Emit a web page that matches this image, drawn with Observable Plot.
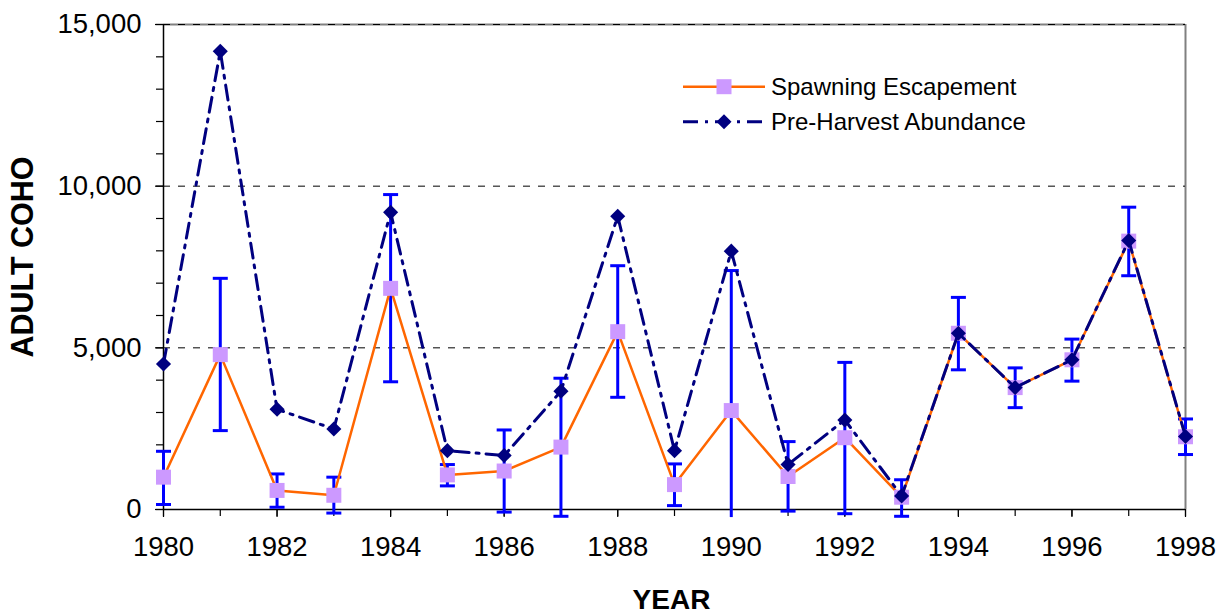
<!DOCTYPE html>
<html>
<head>
<meta charset="utf-8">
<script src="https://cdn.jsdelivr.net/npm/d3@7"></script>
<script src="https://cdn.jsdelivr.net/npm/@observablehq/plot@0.6"></script>
<style>
  html, body { margin: 0; padding: 0; background: white; }
  #wrap { position: relative; width: 1220px; height: 616px; font-family: "Liberation Sans", Arial, sans-serif; }
  #legend { position: absolute; left: 683px; top: 66px; }
</style>
</head>
<body>
<div id="wrap"><div id="legend"></div></div>
<script>
// ---- data ----
const years = [1980,1981,1982,1983,1984,1985,1986,1987,1988,1989,1990,1991,1992,1993,1994,1995,1996,1997,1998];
const spawning = [1000,4790,590,440,6840,1070,1190,1930,5500,770,3060,1020,2220,380,5450,3770,4630,8300,2250];
const preHarvest = [4500,14170,3100,2490,9190,1820,1670,3660,9070,1820,7990,1390,2770,420,5450,3770,4630,8320,2260];
const errLow = [155,2440,70,-110,3950,730,-80,-210,3470,120,-1270,-50,-130,-210,4320,3150,3970,7230,1700];
const errHigh = [1800,7150,1100,1000,9740,1390,2460,4060,7540,1410,7390,2100,4550,920,6560,4380,5270,9350,2800];
const yMajorTicks = [0,5000,10000,15000];
const xLabelTicks = [1980,1982,1984,1986,1988,1990,1992,1994,1996,1998];
const seriesNames = ["Spawning Escapement","Pre-Harvest Abundance"];

const data = years.map((year, i) => ({
  year, spawn: spawning[i], pre: preHarvest[i], lo: errLow[i], hi: errHigh[i]
}));

// error bars are clipped a little below the x axis (as in the original plot area)
const clipFloor = -250;

const ORANGE = "#FF6600", LILAC = "#CC99FF", NAVY = "#000080", BLUE = "#0000FF";

const capSymbol = {
  draw(ctx, size) {
    const w = Math.sqrt(size / Math.PI);
    ctx.moveTo(-w, 0); ctx.lineTo(w, 0);
  }
};

const chart = Plot.plot({
  width: 1220,
  height: 616,
  marginLeft: 163,
  marginRight: 35,
  marginTop: 24,
  marginBottom: 107,
  x: {type: "linear", domain: [1980, 1998], axis: null},
  y: {type: "linear", domain: [0, 15000], axis: null},
  style: {fontFamily: "'Liberation Sans', Arial, sans-serif", fontSize: "27.5px", color: "black", background: "white", overflow: "visible"},
  marks: [
    // plot-area border (top / right)
    Plot.ruleX([1998], {stroke: "#808080", strokeWidth: 2}),
    Plot.ruleY([15000], {stroke: "#808080", strokeWidth: 2}),
    // gridlines
    Plot.ruleY(yMajorTicks.filter(d => d > 0), {stroke: "black", strokeWidth: 1, strokeDasharray: "7,8"}),
    // axes lines
    Plot.ruleY([0], {stroke: "black", strokeWidth: 1.5}),
    Plot.ruleX([1980], {stroke: "black", strokeWidth: 1.5}),
    // minor ticks
    Plot.axisY({ticks: d3.range(0, 15001, 1000), tickFormat: () => "", tickSize: 7, label: null, strokeWidth: 1.2}),
    Plot.axisX({ticks: years, tickFormat: () => "", tickSize: 7, label: null, strokeWidth: 1.2}),
    // major ticks with labels
    Plot.axisY({ticks: yMajorTicks, tickFormat: d3.format(","), tickSize: 8, tickPadding: 14, label: null, strokeWidth: 1.2, fontSize: 27.5}),
    Plot.axisX({ticks: xLabelTicks, tickFormat: d => String(d), tickSize: 8, tickPadding: 19, label: null, strokeWidth: 1.2, fontSize: 27.5}),
    // error bars
    Plot.ruleX(data, {x: "year", y1: d => Math.max(d.lo, clipFloor), y2: "hi", stroke: BLUE, strokeWidth: 3}),
    Plot.dot(data, {x: "year", y: "hi", symbol: capSymbol, r: 7.5, stroke: BLUE, strokeWidth: 3, fill: "none"}),
    Plot.dot(data.filter(d => d.lo >= clipFloor), {x: "year", y: "lo", symbol: capSymbol, r: 7.5, stroke: BLUE, strokeWidth: 3, fill: "none"}),
    // spawning escapement
    Plot.line(data, {x: "year", y: "spawn", stroke: ORANGE, strokeWidth: 2.5}),
    Plot.dot(data, {x: "year", y: "spawn", symbol: "square", r: 8.46, fill: LILAC, stroke: "none"}),
    // pre-harvest abundance
    Plot.line(data, {x: "year", y: "pre", stroke: NAVY, strokeWidth: 3, strokeDasharray: "15,7,3,7"}),
    Plot.dot(data, {x: "year", y: "pre", symbol: "diamond2", r: 6.8, fill: NAVY, stroke: "none"}),
    // axis titles
    Plot.text(["ADULT COHO"], {frameAnchor: "left", dx: -140, dy: -10, rotate: -90, fontWeight: "bold", fontSize: 30.5, lineAnchor: "middle", textAnchor: "middle", fill: "black"}),
    Plot.text(["YEAR"], {frameAnchor: "bottom", dy: 91, dx: -3, fontWeight: "bold", fontSize: 28, lineAnchor: "middle", textAnchor: "middle", fill: "black"})
  ]
});

const wrap = document.getElementById("wrap");
wrap.insertBefore(chart, wrap.firstChild);

// legend
const lg = d3.select("#legend").append("svg").attr("width", 360).attr("height", 76)
  .style("overflow", "visible");
const rows = [
  {name: seriesNames[0], stroke: ORANGE, dash: null, width: 2.5, sym: "square"},
  {name: seriesNames[1], stroke: NAVY, dash: "15,7,3,7", width: 3, sym: "diamond"}
];
rows.forEach((r, i) => {
  const cy = 20.7 + i * 35;
  const g = lg.append("g");
  g.append("line").attr("x1", 0).attr("x2", 82).attr("y1", cy).attr("y2", cy)
    .attr("stroke", r.stroke).attr("stroke-width", r.width)
    .attr("stroke-dasharray", r.dash);
  if (r.sym === "square") {
    g.append("rect").attr("x", 41 - 7.5).attr("y", cy - 7.5).attr("width", 15).attr("height", 15).attr("fill", LILAC);
  } else {
    g.append("path").attr("d", `M41,${cy-7.5}L48.5,${cy}L41,${cy+7.5}L33.5,${cy}Z`).attr("fill", NAVY);
  }
  g.append("text").attr("x", 88).attr("y", cy).attr("dy", "0.35em")
    .attr("font-family", "'Liberation Sans', Arial, sans-serif").attr("font-size", 24)
    .attr("fill", "black").text(r.name);
});
</script>
</body>
</html>
